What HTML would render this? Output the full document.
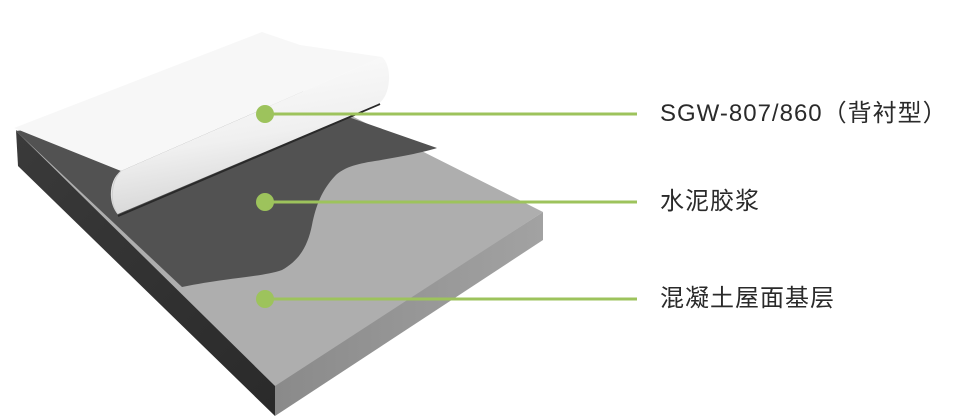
<!DOCTYPE html>
<html><head><meta charset="utf-8"><style>
html,body{margin:0;padding:0;background:#fff;}
body{width:960px;height:417px;overflow:hidden;position:relative;}
svg{position:absolute;left:0;top:0;}
.t{position:absolute;left:660px;font-family:"Liberation Sans","Noto Sans CJK SC",sans-serif;font-size:24px;letter-spacing:1px;color:#2a2a2a;line-height:1;white-space:nowrap;}
</style></head><body>
<svg width="960" height="417" viewBox="0 0 960 417">
<defs>
<linearGradient id="lf" x1="0" y1="0" x2="1" y2="1"><stop offset="0" stop-color="#3a3a3a"/><stop offset="1" stop-color="#2a2a2a"/></linearGradient>
<linearGradient id="rf" x1="0" y1="0" x2="1" y2="0"><stop offset="0" stop-color="#8a8a8a"/><stop offset="1" stop-color="#a2a2a2"/></linearGradient>
<linearGradient id="roll" x1="0" y1="0" x2="0.3" y2="1"><stop offset="0" stop-color="#ffffff"/><stop offset="0.6" stop-color="#f0f0f0"/><stop offset="1" stop-color="#d4d4d4"/></linearGradient>
</defs>
<polygon points="16,130 275,384 275,416 18,166" fill="url(#lf)"/>
<polygon points="275,384 543,212 543,240 275,416" fill="url(#rf)"/>
<polygon points="16,131 300,90 543,212 275,386" fill="#aeaeae"/>
<path d="M16,131 L311,104 L437,148 C425,152 400,157 375,161 C355,164 343,168 335,176 C322,190 316,205 312,225 C308,245 300,260 282,270 C262,277 232,277 182,287 L16,131 Z" fill="#525252"/>
<line x1="118" y1="216" x2="380" y2="104" stroke="#2a2a2a" stroke-width="2"/>
<polygon points="14,128 262,32 300,45 382,57 121,171" fill="#f7f7f7"/>
<path d="M121,171 L382,57 C392,65 392,95 378,104 L118,214 C108,205 108,180 121,171 Z" fill="url(#roll)"/>
<path d="M121,171 C110,182 110,205 118,214" fill="none" stroke="#cfcfcf" stroke-width="1"/>
<g stroke="#9dc35c" stroke-width="3">
<line x1="265" y1="114" x2="637" y2="114"/>
<line x1="265" y1="202" x2="637" y2="202"/>
<line x1="265" y1="299" x2="637" y2="299"/>
</g>
<g fill="#9dc35c">
<circle cx="265" cy="114" r="9"/>
<circle cx="265" cy="202" r="9"/>
<circle cx="265" cy="299" r="9"/>
</g>
</svg>
<div class="t" style="top:102px">SGW-807/860（背衬型）</div>
<div class="t" style="top:190px">水泥胶浆</div>
<div class="t" style="top:287px">混凝土屋面基层</div>
</body></html>
